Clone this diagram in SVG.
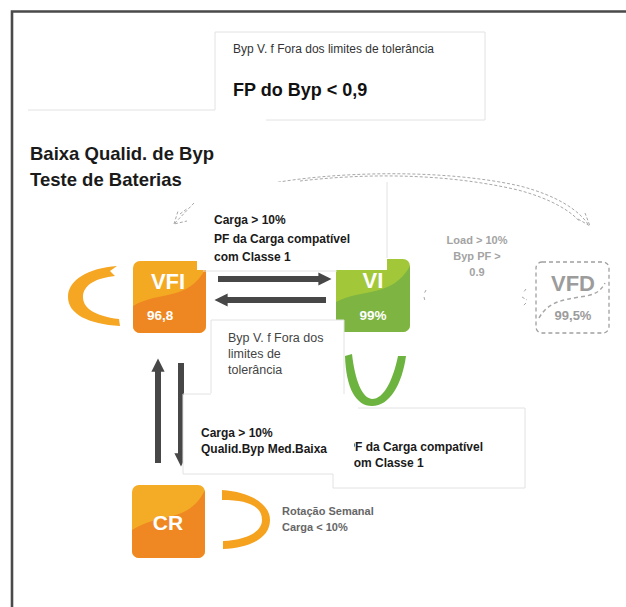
<svg xmlns="http://www.w3.org/2000/svg" width="626" height="607" viewBox="0 0 626 607">
<style>
  text { font-family: "Liberation Sans", Arial, sans-serif; }
  .b { font-weight: bold; }
  .lbl { font-size: 12px; font-weight: bold; fill: #1a1a1a; }
  .reg { font-size: 12px; fill: #444; }
  .ghost { fill: none; stroke: #a8a8a8; stroke-width: 1; stroke-dasharray: 3 2; }
  .faint { fill: none; stroke: #e2e2e2; stroke-width: 1; }
  .node { fill: #fff; text-anchor: middle; font-weight: bold; }
  .arr { stroke: #474747; stroke-width: 6; fill: none; }
</style>
<defs>
  <marker id="ah" viewBox="0 0 10 10" refX="2" refY="5" markerWidth="2.2" markerHeight="2.6" orient="auto" markerUnits="strokeWidth">
    <path d="M0 0 L10 5 L0 10 Z" fill="#474747"/>
  </marker>
  <clipPath id="cVFI"><rect x="133" y="261" width="73" height="72" rx="7"/></clipPath>
  <clipPath id="cVI"><rect x="336" y="259" width="74" height="73" rx="7"/></clipPath>
  <clipPath id="cCR"><rect x="132" y="485" width="73" height="73" rx="7"/></clipPath>
</defs>
<rect width="626" height="607" fill="#fff"/>
<!-- frame -->
<path d="M12 607 V11.5 H626" fill="none" stroke="#4a4a4a" stroke-width="2.6"/>

<!-- top box -->
<g id="top-note">
  <path class="faint" d="M28 110 H215 V32 H485 V120 H266"/>
  <text x="233" y="53" class="reg" style="fill:#333">Byp V. f Fora dos limites de tolerância</text>
  <text x="233" y="96" class="b" style="font-size:18px;fill:#111">FP do Byp &lt; 0,9</text>
</g>

<g id="title">
  <text x="30" y="160" class="b" style="font-size:18.5px;fill:#1a1a1a">Baixa Qualid. de Byp</text>
  <text x="30" y="186" class="b" style="font-size:18.5px;fill:#1a1a1a">Teste de Baterias</text>
</g>

<!-- ghost connectors -->
<g id="ghost-connectors">
  <path class="ghost" d="M268 184 C330 172 440 168 520 186 C558 196 578 210 588 224"/>
  <path class="ghost" d="M300 181 C360 174 440 172 518 190 C552 199 572 212 580 222"/>
  <path class="ghost" d="M578 219 L590 226 L585 213"/>
  <path class="ghost" d="M194 203 L174 224 L187 221 M174 224 L178 211 M180 214 L188 208"/>
  <path class="ghost" d="M426 290 l-2 4 M424 297 l1 4"/>
  <path class="ghost" d="M526 289 l-3 4 M522 297 l5 3 M526 303 l-3 3"/>
</g>

<!-- VFD ghost node -->
<g id="VFD">
  <rect x="536" y="262" width="73" height="71" rx="6" fill="none" stroke="#a0a0a0" stroke-width="1.3" stroke-dasharray="4 3"/>
  <path d="M539 318 C548 302 562 300 580 297 C595 295 600 292 605 283" fill="none" stroke="#a8a8a8" stroke-width="1.5" stroke-dasharray="4 3"/>
  <text x="573" y="291" text-anchor="middle" class="b" style="font-size:22px;fill:#9c9c9c">VFD</text>
  <text x="573" y="320" text-anchor="middle" class="b" style="font-size:13px;fill:#9c9c9c">99,5%</text>
</g>
<g id="load-label" style="font-size:11px;fill:#a3a3a3" class="b">
  <text x="477" y="244" text-anchor="middle">Load &gt; 10%</text>
  <text x="477" y="260" text-anchor="middle">Byp PF &gt;</text>
  <text x="477" y="276" text-anchor="middle">0.9</text>
</g>

<!-- VFI node -->
<g id="VFI">
  <rect x="133" y="261" width="73" height="72" rx="7" fill="#F4A922"/>
  <path clip-path="url(#cVFI)" d="M133 306 C160 290 188 302 206 268 L206 333 L133 333 Z" fill="#EE8722"/>
  <text x="168" y="289" class="node" style="font-size:22px">VFI</text>
  <text x="147" y="320" class="b" style="font-size:13.5px;fill:#fff">96,8</text>
</g>

<!-- VI node -->
<g id="VI">
  <rect x="336" y="259" width="74" height="73" rx="7" fill="#A2C83A"/>
  <path clip-path="url(#cVI)" d="M336 302 C362 288 392 298 410 266 L410 332 L336 332 Z" fill="#7DB442"/>
  <text x="373" y="288" class="node" style="font-size:22px">VI</text>
  <text x="373" y="320" class="node" style="font-size:13.5px">99%</text>
</g>

<!-- CR node -->
<g id="CR">
  <rect x="132" y="485" width="73" height="73" rx="7" fill="#F4AC26"/>
  <path clip-path="url(#cCR)" d="M132 530 C160 512 188 524 205 490 L205 558 L132 558 Z" fill="#EF8822"/>
  <text x="168" y="530" text-anchor="middle" style="font-size:21px;fill:#fff;font-weight:600">CR</text>
</g>

<!-- label box 1 (covers node corners) -->
<g id="label-carga-1">
  <rect x="197" y="182" width="190" height="88" fill="#fff"/>
  <path class="faint" d="M387 182 V258"/>
  <path class="faint" d="M203 271 H337"/>
  <text x="214" y="224" class="lbl">Carga &gt; 10%</text>
  <text x="214" y="243" class="lbl">PF da Carga compatível</text>
  <text x="214" y="261" class="lbl">com Classe 1</text>
</g>

<!-- Byp box -->
<g id="label-byp">
  <rect x="211" y="320" width="133" height="74" fill="#fff"/>
  <path class="faint" d="M211 393 V320 H344 V394"/>
  <text x="228" y="342" class="reg" style="font-size:12.5px">Byp V. f Fora dos</text>
  <text x="228" y="358" class="reg" style="font-size:12.5px">limites de</text>
  <text x="228" y="374" class="reg" style="font-size:12.5px">tolerância</text>
</g>

<!-- self loops -->
<g id="loops">
  <path d="M117 266 C88 268 68 280 68 297 C68 314 88 324 120 326 L119 319 C94 316 83 308 83 297 C83 285 96 278 115 276 L110 271 Z" fill="#F5A623"/>
  <path d="M345 356 L352 354 C355 380 362 398 372 399 C384 399 393 380 398 356 L406 356 C402 384 390 406 372 406 C356 406 346 388 345 356 Z" fill="#6DB33F"/>
  <path d="M222 490 C252 492 270 505 270 520 C270 537 252 548 223 549 L223 541 C246 540 262 532 262 520 C262 507 250 500 222 500 Z" fill="#F5A21F"/>
</g>

<!-- connectors -->
<g id="connectors">
  <path class="arr" d="M218 279 H321" marker-end="url(#ah)"/>
  <path class="arr" d="M326 300 H225" marker-end="url(#ah)"/>
  <path class="arr" d="M158 463 V369" marker-end="url(#ah)"/>
  <path class="arr" d="M181 363 V456" marker-end="url(#ah)"/>
</g>

<!-- PF box -->
<g id="label-pf">
  <path class="faint" d="M358 408 H525 V488 H333 V474"/>
  <text x="347" y="451" class="lbl">PF da Carga compatível</text>
  <text x="347" y="467" class="lbl">com Classe 1</text>
</g>

<!-- Qualid box -->
<g id="label-qualid">
  <rect x="183" y="395" width="171" height="79" fill="#fff"/>
  <path class="faint" d="M211 394 H183 V474 H333"/>
  <text x="201" y="437" class="lbl">Carga &gt; 10%</text>
  <text x="201" y="453" class="lbl">Qualid.Byp Med.Baixa</text>
</g>

<g id="label-rotacao" class="b" style="font-size:11px;fill:#666">
  <text x="282" y="515">Rotação Semanal</text>
  <text x="282" y="531">Carga &lt; 10%</text>
</g>
</svg>
